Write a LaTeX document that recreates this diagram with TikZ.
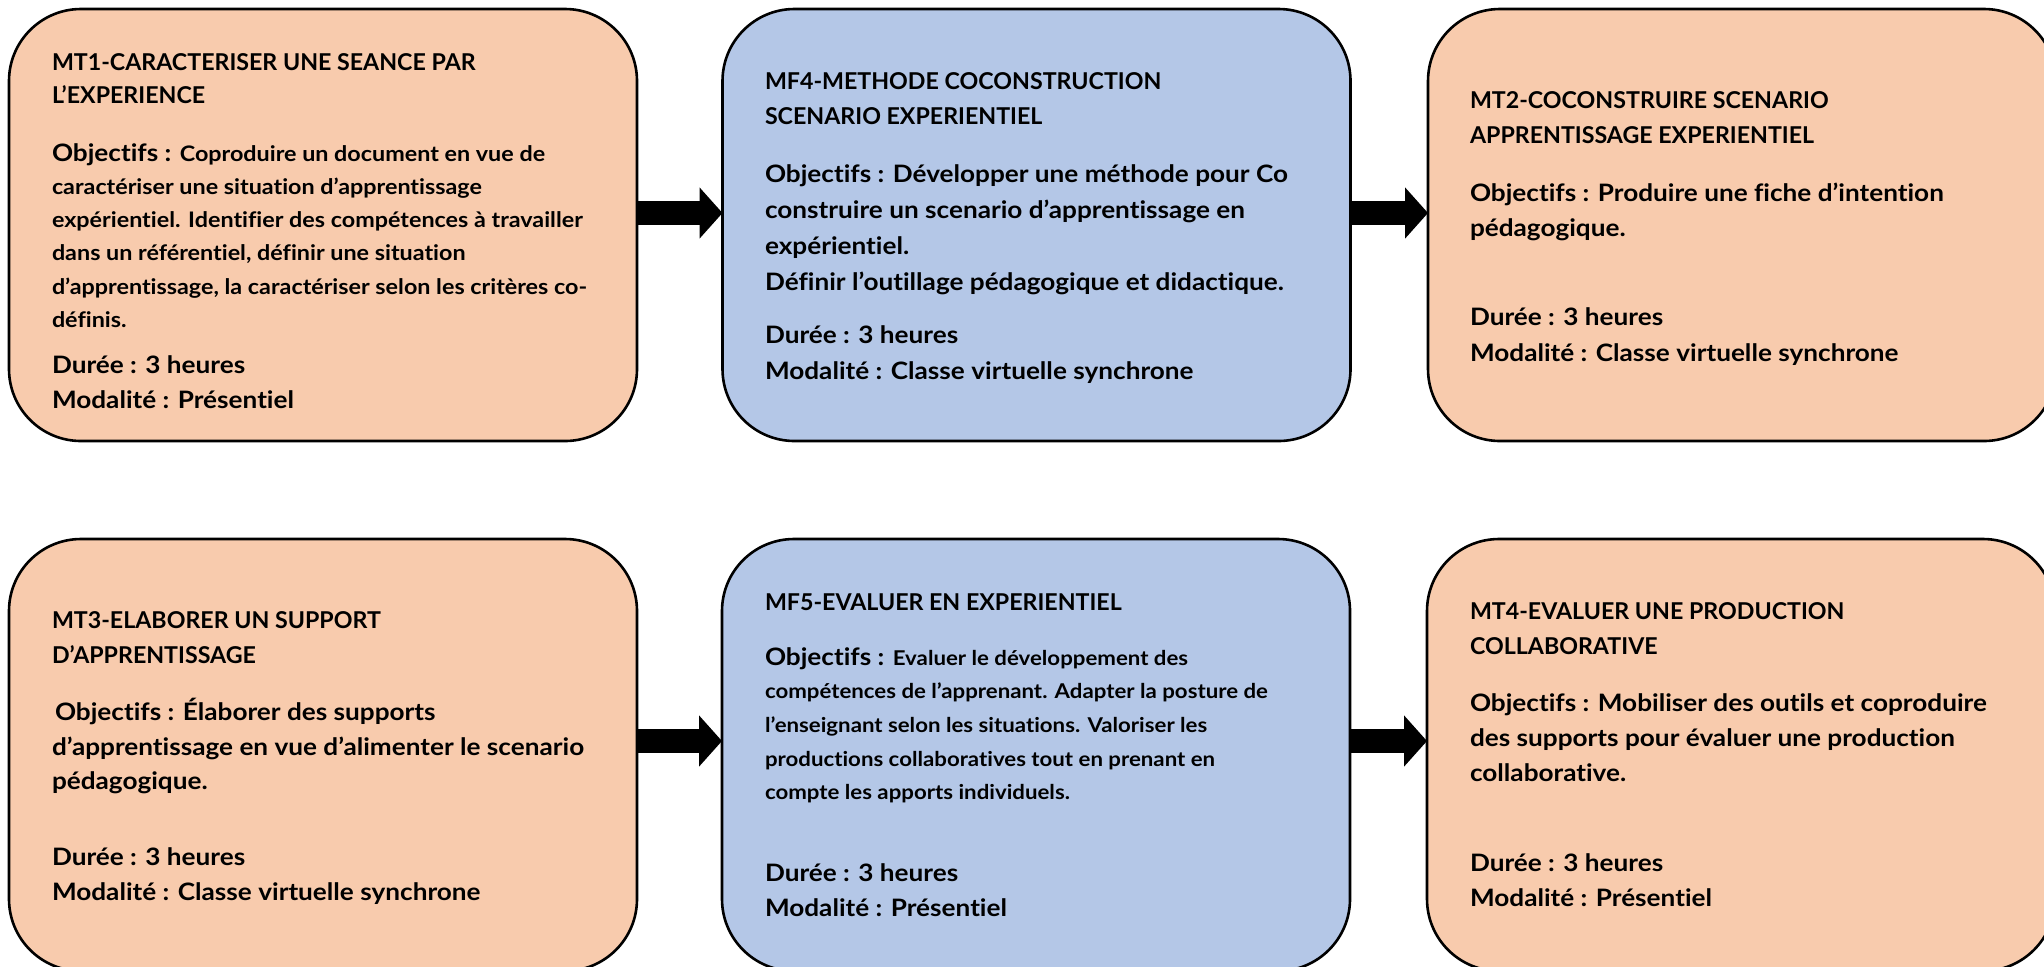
\documentclass[tikz,border=0pt]{standalone}
\usepackage{fontspec}
\setmainfont{Lato}[Ligatures=NoCommon]
\newfontfamily\bodyf{Lato}[FakeStretch=1.09, Ligatures=NoCommon]
\usetikzlibrary{arrows.meta}
\definecolor{orng}{HTML}{F8CBAD}
\definecolor{blu}{HTML}{B4C7E7}
\newcommand\txtln[4]{\node[txt] (#1) at (#2,#3) {#4};}
\newcommand\ttlln[4]{\node[ttl] (#1) at (#2,#3) {#4};}
\newcommand\sm[1]{{\fontsize{10.7}{12}\selectfont #1}}
\newcommand\smb[1]{{\fontsize{10.2}{12}\selectfont #1}}
\begin{document}
\begin{tikzpicture}[x=0.5pt,y=-0.5pt,
  box/.style={draw=black, line width=1.3pt, rounded corners=36pt, minimum width=314pt, minimum height=216pt, inner sep=0pt, outer sep=0pt},
  txt/.style={anchor=base west, inner sep=0pt, outer sep=0pt, font=\bodyf\fontsize{12}{14}\selectfont\bfseries},
  ttl/.style={anchor=base west, inner sep=0pt, outer sep=0pt, font=\fontsize{11.6}{14}\selectfont\bfseries},
  flow/.style={line width=12pt, -{Triangle[length=11.5pt,width=25pt]}}]
\useasboundingbox (0,0) rectangle (2044,966);
\clip (0,0) rectangle (2044,966);
% boxes
\node[box, fill=orng] (b1) at (323,225) {};
\node[box, fill=blu]  (b2) at (1036.5,225) {};
\node[box, fill=orng] (b3) at (1742,225) {};
\node[box, fill=orng] (b4) at (323,755) {};
\node[box, fill=blu]  (b5) at (1036,755) {};
\node[box, fill=orng] (b6) at (1741,755) {};
% arrows
\draw[flow] ([yshift=6pt]b1.east) -- ([yshift=6pt]b2.west);
\draw[flow] ([yshift=6pt]b2.east) -- ([yshift=6pt]b3.west);
\draw[flow] ([yshift=7pt]b4.east) -- ([yshift=7pt]b5.west);
\draw[flow] ([yshift=7pt]b5.east) -- ([yshift=7pt]b6.west);
% box 1
\ttlln{t1a}{52}{70}{MT1-CARACTERISER UNE SEANCE PAR}
\ttlln{t1b}{52}{103}{L’EXPERIENCE}
\txtln{t1c}{52}{161}{Objectifs : \sm{Coproduire un document en vue de}}
\txtln{t1d}{52}{194}{\sm{caractériser une situation d’apprentissage}}
\txtln{t1e}{52}{227}{\sm{expérientiel. Identifier des compétences à travailler}}
\txtln{t1f}{52}{260}{\sm{dans un référentiel, définir une situation}}
\txtln{t1g}{52}{294}{\sm{d’apprentissage, la caractériser selon les critères co-}}
\txtln{t1h}{52}{327}{\sm{définis.}}
\txtln{t1i}{52}{373}{Durée : 3 heures}
\txtln{t1j}{52}{408}{Modalité : Présentiel}
% box 2
\ttlln{t2a}{765}{89}{MF4-METHODE COCONSTRUCTION}
\ttlln{t2b}{765}{124}{SCENARIO EXPERIENTIEL}
\txtln{t2c}{765}{182}{Objectifs : Développer une méthode pour Co}
\txtln{t2d}{765}{218}{construire un scenario d’apprentissage en}
\txtln{t2e}{765}{254}{expérientiel.}
\txtln{t2f}{765}{290}{Définir l’outillage pédagogique et didactique.}
\txtln{t2g}{765}{343}{Durée : 3 heures}
\txtln{t2h}{765}{379}{Modalité : Classe virtuelle synchrone}
% box 3
\ttlln{t3a}{1470}{108}{MT2-COCONSTRUIRE SCENARIO}
\ttlln{t3b}{1470}{143}{APPRENTISSAGE EXPERIENTIEL}
\txtln{t3c}{1470}{201}{Objectifs : Produire une fiche d’intention}
\txtln{t3d}{1470}{236}{pédagogique.}
\txtln{t3e}{1470}{325}{Durée : 3 heures}
\txtln{t3f}{1470}{361}{Modalité : Classe virtuelle synchrone}
% box 4
\ttlln{t4a}{52}{628}{MT3-ELABORER UN SUPPORT}
\ttlln{t4b}{52}{663}{D’APPRENTISSAGE}
\txtln{t4c}{55}{720}{Objectifs : Élaborer des supports}
\txtln{t4d}{52}{755}{d’apprentissage en vue d’alimenter le scenario}
\txtln{t4e}{52}{789}{pédagogique.}
\txtln{t4f}{52}{865}{Durée : 3 heures}
\txtln{t4g}{52}{900}{Modalité : Classe virtuelle synchrone}
% box 5
\ttlln{t5a}{765}{610}{MF5-EVALUER EN EXPERIENTIEL}
\txtln{t5b}{765}{665}{Objectifs : \smb{Evaluer le développement des}}
\txtln{t5c}{765}{698}{\smb{compétences de l’apprenant. Adapter la posture de}}
\txtln{t5d}{765}{732}{\smb{l’enseignant selon les situations. Valoriser les}}
\txtln{t5e}{765}{766}{\smb{productions collaboratives tout en prenant en}}
\txtln{t5f}{765}{799}{\smb{compte les apports individuels.}}
\txtln{t5g}{765}{881}{Durée : 3 heures}
\txtln{t5h}{765}{916}{Modalité : Présentiel}
% box 6
\ttlln{t6a}{1470}{619}{MT4-EVALUER UNE PRODUCTION}
\ttlln{t6b}{1470}{654}{COLLABORATIVE}
\txtln{t6c}{1470}{711}{Objectifs : Mobiliser des outils et coproduire}
\txtln{t6d}{1470}{746}{des supports pour évaluer une production}
\txtln{t6e}{1470}{781}{collaborative.}
\txtln{t6f}{1470}{871}{Durée : 3 heures}
\txtln{t6g}{1470}{906}{Modalité : Présentiel}
\end{tikzpicture}
\end{document}
